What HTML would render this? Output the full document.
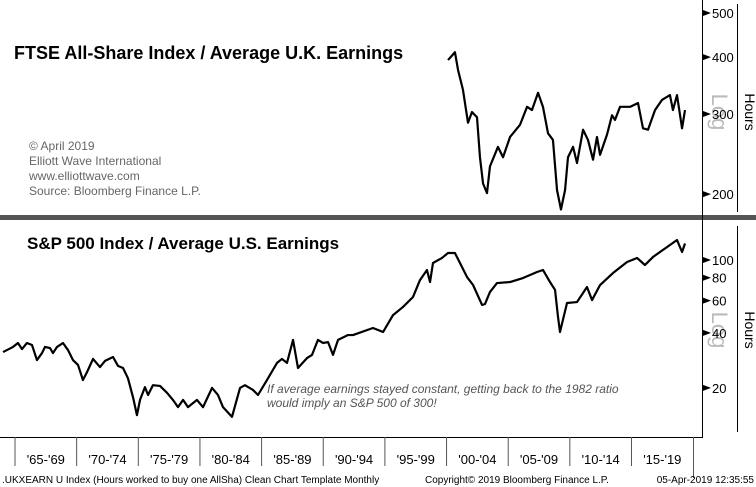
<!DOCTYPE html>
<html><head><meta charset="utf-8"><style>
body{margin:0;background:#fff;width:756px;height:487px;overflow:hidden;font-family:"Liberation Sans",sans-serif}
svg{display:block}
</style></head><body>
<svg id="c" width="756" height="487" xmlns="http://www.w3.org/2000/svg">
<rect x="0" y="215" width="756" height="5" fill="#555"/>
<line x1="702.5" y1="0" x2="702.5" y2="437" stroke="#000"/>
<line x1="0" y1="437.5" x2="703" y2="437.5" stroke="#000"/>
<line x1="737.5" y1="4" x2="737.5" y2="212" stroke="#000"/>
<line x1="737.5" y1="226" x2="737.5" y2="432" stroke="#000"/>
<line x1="693.5" y1="437" x2="693.5" y2="478" stroke="#555"/>
<text x="14" y="59" font-size="18" font-weight="bold">FTSE All-Share Index / Average U.K. Earnings</text>
<g font-size="12" fill="#666">
<text x="29" y="150">© April 2019</text><text x="29" y="165">Elliott Wave International</text>
<text x="29" y="180">www.elliottwave.com</text><text x="29" y="195">Source: Bloomberg Finance L.P.</text></g>
<text x="27" y="249" font-size="17" font-weight="bold">S&amp;P 500 Index / Average U.S. Earnings</text>
<g font-size="12" font-style="italic" fill="#555">
<text x="267" y="393">If average earnings stayed constant, getting back to the 1982 ratio</text>
<text x="267" y="407">would imply an S&amp;P 500 of 300!</text></g>
<text transform="translate(745,112) rotate(90)" font-size="14" text-anchor="middle">Hours</text>
<text transform="translate(745,330) rotate(90)" font-size="14" text-anchor="middle">Hours</text>
<text transform="translate(712,112) rotate(90)" font-size="22" fill="#bbb" text-anchor="middle">Log</text>
<text transform="translate(712,330) rotate(90)" font-size="22" fill="#bbb" text-anchor="middle">Log</text>
<g font-size="10">
<text x="2" y="483">.UKXEARN U Index (Hours worked to buy one AllSha) Clean Chart Template  Monthly</text>
<text x="425" y="483">Copyright© 2019 Bloomberg Finance L.P.</text>
<text x="754" y="483" text-anchor="end">05-Apr-2019 12:35:55</text></g>
<g id="g"></g>
</svg>
<script>
const topTicks=[500,400,300,200];
const botTicks=[100,80,60,40,20];
const periodStarts=[1965,1970,1975,1980,1985,1990,1995,2000,2005,2010,2015];
const periodLabels=["'65-'69","'70-'74","'75-'79","'80-'84","'85-'89","'90-'94","'95-'99","'00-'04","'05-'09","'10-'14","'15-'19"];
const ftseYears=[2000.12,2000.68,2000.93,2001.33,2001.74,2002.06,2002.47,2002.71,2002.96,2003.28,2003.52,2004.17,2004.58,2005.15,2005.96,2006.53,2006.93,2007.42,2007.82,2008.23,2008.63,2008.96,2009.28,2009.61,2009.85,2010.26,2010.58,2011.07,2011.47,2011.88,2012.20,2012.45,2013.01,2013.42,2013.66,2014.07,2014.88,2015.53,2015.93,2016.34,2016.91,2017.47,2018.12,2018.36,2018.69,2019.10,2019.34];
const ftseVals=[394,410,375,339,287,303,295,241,211,201,230,254,241,267,284,311,306,334,311,272,263,204,185,204,241,254,234,277,263,238,267,244,270,298,291,311,311,317,279,277,306,322,330,306,330,279,306];
const spYears=[1964.03,1964.84,1965.24,1965.57,1965.97,1966.38,1966.78,1967.19,1967.43,1967.84,1968.08,1968.41,1968.89,1969.30,1969.70,1970.11,1970.51,1970.84,1971.33,1971.89,1972.30,1972.95,1973.35,1973.76,1974.16,1974.57,1974.89,1975.14,1975.54,1975.79,1976.19,1976.76,1977.33,1977.81,1978.22,1978.63,1979.03,1979.76,1980.25,1980.98,1981.46,1981.87,1982.60,1983.25,1983.65,1984.30,1984.71,1985.44,1986.25,1986.65,1987.06,1987.55,1987.95,1988.68,1989.09,1989.57,1989.98,1990.39,1990.79,1991.20,1992.01,1992.41,1994.03,1994.85,1995.66,1996.47,1997.28,1997.85,1998.41,1998.66,1998.90,1999.63,2000.12,2000.68,2001.09,2001.66,2002.15,2002.88,2003.12,2003.52,2004.09,2005.15,2006.20,2007.34,2007.82,2008.39,2008.80,2009.04,2009.20,2009.77,2010.58,2011.39,2011.80,2012.45,2013.50,2014.64,2015.45,2016.09,2016.74,2017.31,2018.12,2018.69,2019.10,2019.34];
const spVals=[31.4,33.5,35.2,32.6,35.2,34.3,28.4,31.0,33.5,33.0,31.0,33.5,35.2,32.2,28.4,26.7,22.1,24.4,28.8,26.0,28.1,29.5,26.4,25.7,22.6,17.8,14.2,17.2,20.2,18.3,20.7,20.5,18.8,17.2,15.7,17.2,15.7,17.2,15.7,20.0,18.3,15.7,13.9,20.0,20.7,19.5,18.3,22.1,27.4,28.8,27.4,36.6,25.7,29.1,30.3,36.6,35.2,35.6,30.3,36.6,38.9,38.9,42.5,40.4,50.0,55.4,62.8,77.8,88.2,75.8,96.3,102.6,109.2,109.2,96.3,80.7,73.0,56.8,57.5,66.8,74.8,75.8,79.7,86.0,88.2,75.8,68.6,48.9,40.4,58.2,58.9,71.2,60.4,73.0,84.9,97.5,102.6,93.9,103.8,110.6,120.8,128.6,110.6,123.0];
const X=y=>15+(y-1965)*12.33;
const YT=v=>13+Math.log10(500/v)*455;
const YB=v=>260+Math.log10(100/v)*183;
const NS='http://www.w3.org/2000/svg',g=document.getElementById('g');
function mk(t,a){const e=document.createElementNS(NS,t);for(const k in a)e.setAttribute(k,a[k]);g.appendChild(e);return e;}
topTicks.forEach(v=>{const y=YT(v);
 const p=mk('path',{d:`M703 ${y-3}L711 ${y}L703 ${y+3}Z`,fill:'#000'});
 
 
 const t=mk('text',{x:712,y:y+5,'font-size':13});t.textContent=v;
 
 });
botTicks.forEach(v=>{const y=YB(v);
 const p=mk('path',{d:`M703 ${y-3}L711 ${y}L703 ${y+3}Z`,fill:'#000'});
 
 
 const t=mk('text',{x:712,y:y+5,'font-size':13});t.textContent=v;
 
 });
periodStarts.forEach((s,i)=>{const x=X(s);
 const l=mk('line',{x1:x,y1:437,x2:x,y2:466,stroke:'#555'});
 
 
 const t=mk('text',{x:x+(X(s+5)-x)/2,y:464,'font-size':13,'text-anchor':'middle'});t.textContent=periodLabels[i];
 
 });
const l1=mk('polyline',{points:ftseYears.map((y,i)=>X(y)+','+YT(ftseVals[i])).join(' '),fill:'none',stroke:'#000','stroke-width':2.2,'stroke-linejoin':'round'});


const l2=mk('polyline',{points:spYears.map((y,i)=>X(y)+','+YB(spVals[i])).join(' '),fill:'none',stroke:'#000','stroke-width':2.2,'stroke-linejoin':'round'});


</script>
</body></html>
